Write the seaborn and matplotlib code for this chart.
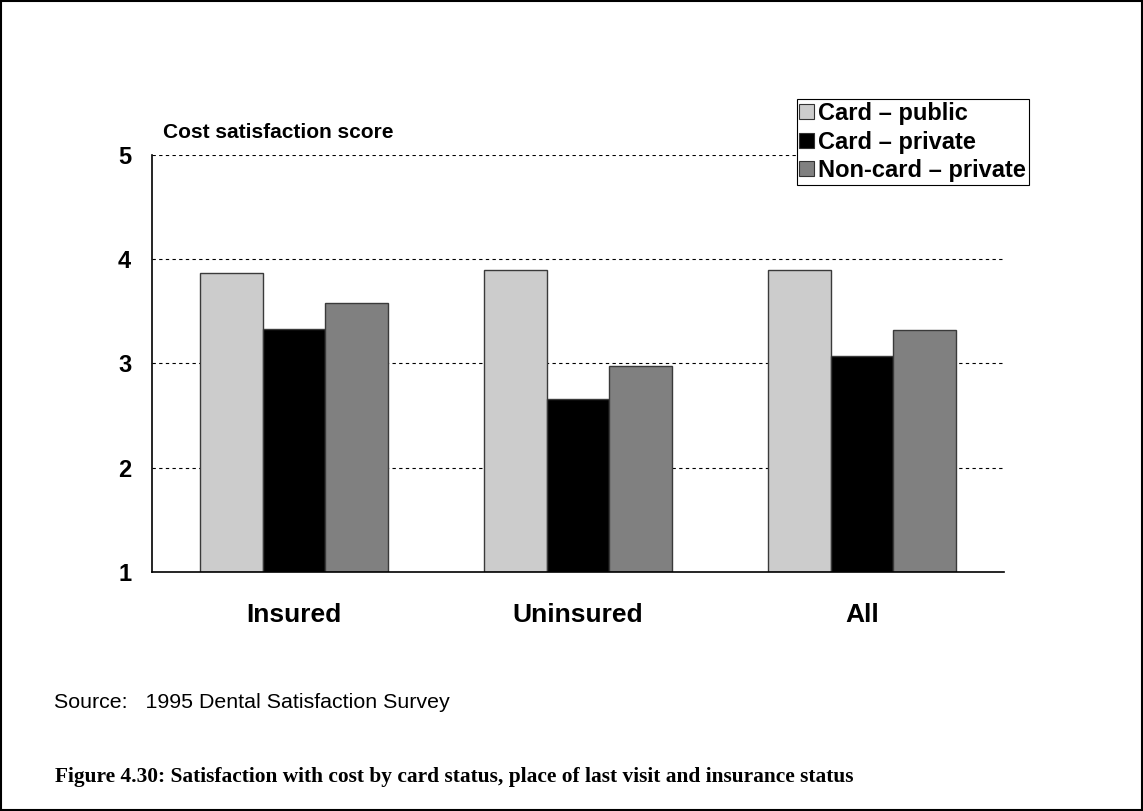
import pandas as pd
import matplotlib.pyplot as plt
import seaborn as sns
from matplotlib.patches import Rectangle

# data
groups = ["Insured", "Uninsured", "All"]
series = ["Card – public", "Card – private", "Non-card – private"]
card_public = [3.87, 3.90, 3.90]
card_private = [3.33, 2.66, 3.07]
noncard_private = [3.58, 2.98, 3.32]
y_ticks = [1, 2, 3, 4, 5]

colors = ["#cccccc", "#000000", "#808080"]

rows = []
for i, g in enumerate(groups):
    for s, vals in zip(series, [card_public, card_private, noncard_private]):
        rows.append({"group": g, "series": s, "score": vals[i]})
df = pd.DataFrame(rows)

sns.set_style("white")
plt.rcParams["font.family"] = ["Liberation Sans", "DejaVu Sans"]
plt.rcParams["text.color"] = "black"
plt.rcParams["xtick.color"] = "black"
plt.rcParams["ytick.color"] = "black"

fig = plt.figure(figsize=(11.43, 8.11), dpi=100)
ax = fig.add_axes([0.133, 0.2947, 0.7454, 0.5142])

sns.barplot(data=df, x="group", y="score", hue="series", order=groups,
            hue_order=series, palette=colors, width=0.665, ax=ax,
            edgecolor="#3a3a3a", linewidth=1, saturation=1, legend=True)

# bars start at 1, not 0
for p in ax.patches:
    h = p.get_height()
    if h > 0:
        p.set_y(1)
        p.set_height(h - 1)

ax.set_ylim(1, 5)
ax.set_xlim(-0.5, 2.5)
ax.set_yticks(y_ticks)
ax.set_yticklabels([str(t) for t in y_ticks], fontsize=17, fontweight="bold")
ax.set_xticks(range(len(groups)))
ax.set_xticklabels(groups, fontsize=19, fontweight="bold")
ax.tick_params(axis="x", length=0, pad=22)
ax.tick_params(axis="y", length=7, width=1, color="#555555", pad=8, direction="out")
ax.set_xlabel("")
ax.set_ylabel("")

for y in y_ticks[1:]:
    ax.axhline(y, color="black", linestyle=(0, (3, 3)), linewidth=0.8, zorder=0)

for side in ["top", "right"]:
    ax.spines[side].set_visible(False)
ax.spines["left"].set_color("black")
ax.spines["bottom"].set_color("black")
ax.spines["left"].set_linewidth(1.2)
ax.spines["bottom"].set_linewidth(1.2)

leg = ax.legend(loc="upper right", bbox_to_anchor=(1029 / 1143, 1 - 99 / 811),
                bbox_transform=fig.transFigure, frameon=True,
                fancybox=False, edgecolor="black", framealpha=1,
                prop={"weight": "bold", "size": 17}, handlelength=0.6,
                handleheight=0.6, handletextpad=0.2, borderpad=0.12,
                labelspacing=0.24, borderaxespad=0)
leg.get_frame().set_linewidth(0.8)
for h in leg.legend_handles:
    h.set_edgecolor("#333333")
    h.set_linewidth(0.8)

fig.text(163 / 1143, 1 - 132 / 811, "Cost satisfaction score", fontsize=15,
         fontweight="bold", va="center", ha="left")

fig.text(54 / 1143, 1 - 703 / 811, "Source:   1995 Dental Satisfaction Survey",
         fontsize=15.4, va="center", ha="left")

fig.text(55 / 1143, 1 - 777 / 811,
         "Figure 4.30: Satisfaction with cost by card status, place of last visit and insurance status",
         fontsize=15.4, fontweight="bold", va="center", ha="left",
         family=["Liberation Serif", "DejaVu Serif"])

fig.patches.append(Rectangle((0.001, 0.001), 0.998, 0.998, transform=fig.transFigure,
                             fill=False, edgecolor="black", linewidth=1.5))

fig.savefig("out.png", dpi=100)
